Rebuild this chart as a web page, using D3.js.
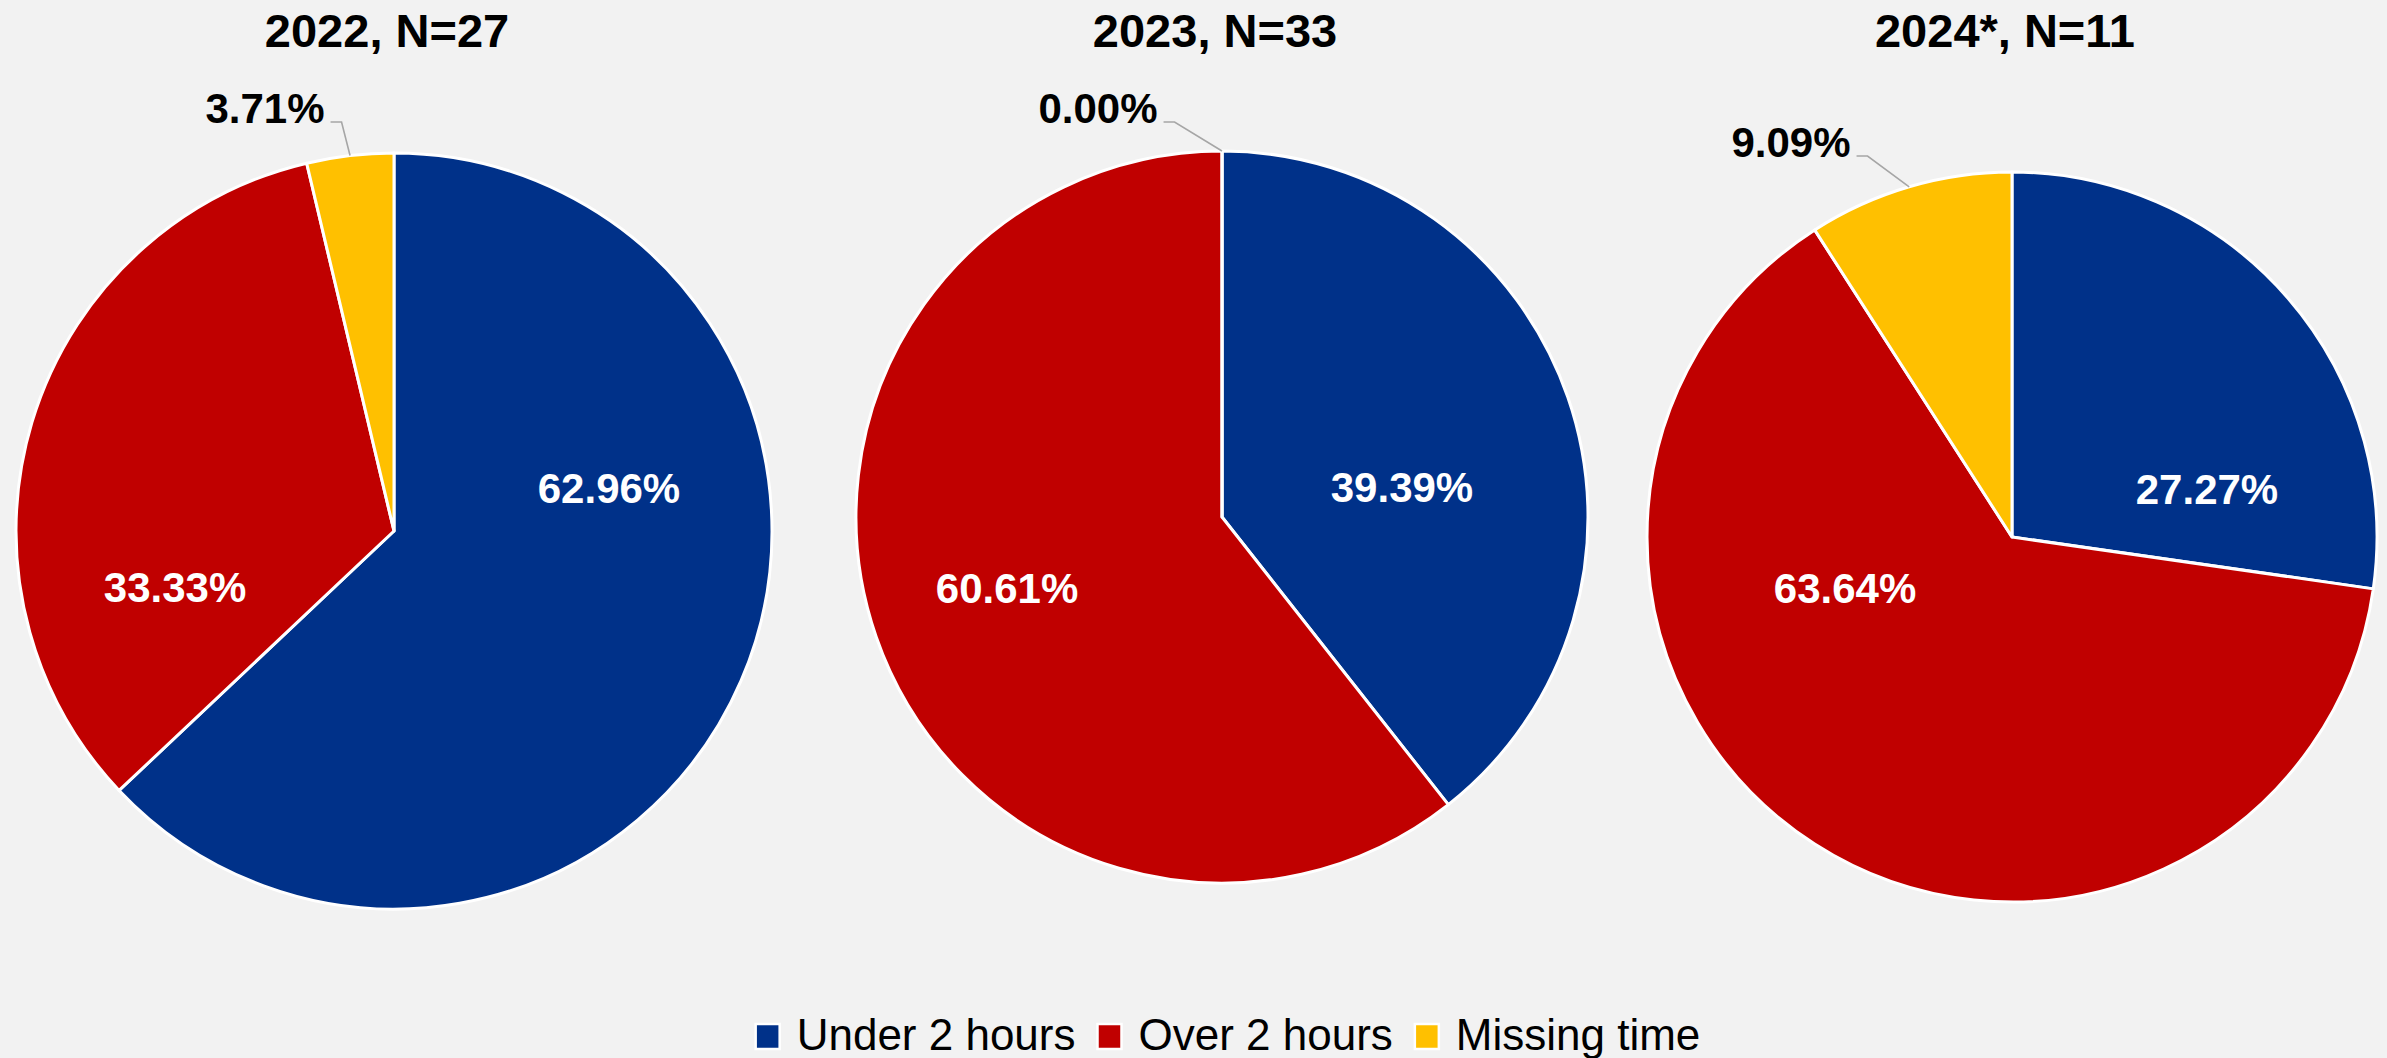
<!DOCTYPE html>
<html>
<head>
<meta charset="utf-8">
<script src="https://cdn.jsdelivr.net/npm/d3@7"></script>
<style>
  html, body { margin: 0; padding: 0; background: #f2f2f2; }
  svg { display: block; font-family: "Liberation Sans", Arial, sans-serif; }
</style>
</head>
<body>
<svg id="chart" width="2387" height="1058"></svg>
<script>
// chart values
var years = ["2022, N=27", "2023, N=33", "2024*, N=11"];
var categories = ["Under 2 hours", "Over 2 hours", "Missing time"];
var under2 = [62.96, 39.39, 27.27];
var over2 = [33.33, 60.61, 63.64];
var missing = [3.71, 0.00, 9.09];
var colors = ["#003189", "#c00000", "#ffc000"];

// layout: one pie per year (centre / radius), label nudges relative to centre
var pies = [
  {cx: 394, cy: 531, r: 378},
  {cx: 1222, cy: 517, r: 366},
  {cx: 2012, cy: 537, r: 365}
];
var innerLabelAt = [
  [[215, -28], [-219, 71]],
  [[180, -15], [-215, 86]],
  [[195, -33], [-167, 66]]
];
var outerLabelAt = [[-129, -408], [-124, -394], [-221, -380]];

var svg = d3.select("#chart");
var color = d3.scaleOrdinal().domain(categories).range(colors);
var pie = d3.pie().sort(null).value(function(d) { return d.value; });
var fmt = function(v) { return d3.format(".2f")(v) + "%"; };

years.forEach(function(year, i) {
  var p = pies[i];
  var rows = [
    {key: categories[0], value: under2[i]},
    {key: categories[1], value: over2[i]},
    {key: categories[2], value: missing[i]}
  ];
  var arcs = pie(rows);
  var arc = d3.arc().innerRadius(0).outerRadius(p.r);
  var edge = d3.arc().innerRadius(p.r).outerRadius(p.r);

  var g = svg.append("g").attr("transform", "translate(" + p.cx + "," + p.cy + ")");

  g.selectAll("path").data(arcs).enter().append("path")
    .attr("d", arc)
    .style("fill", function(d) { return color(d.data.key); })
    .style("stroke", "#fff")
    .style("stroke-width", 3)
    .style("stroke-linejoin", "round");

  // title
  svg.append("text")
    .attr("x", p.cx - 7)
    .attr("y", 47)
    .attr("text-anchor", "middle")
    .style("font-weight", "bold")
    .style("font-size", "47px")
    .style("fill", "#000")
    .text(year);

  // white labels inside the two big slices
  arcs.slice(0, 2).forEach(function(d, j) {
    g.append("text")
      .attr("x", innerLabelAt[i][j][0])
      .attr("y", innerLabelAt[i][j][1])
      .attr("text-anchor", "middle")
      .style("font-weight", "bold")
      .style("font-size", "42px")
      .style("fill", "#fff")
      .text(fmt(d.data.value));
  });

  // outside label + leader for the "missing" slice
  var m = arcs[2];
  var lbl = g.append("text")
    .attr("x", outerLabelAt[i][0])
    .attr("y", outerLabelAt[i][1])
    .attr("text-anchor", "middle")
    .style("font-weight", "bold")
    .style("font-size", "42px")
    .style("fill", "#000")
    .text(fmt(m.data.value));
  var box = lbl.node().getBBox();
  var tip = edge.centroid(m);
  var x0 = box.x + box.width + 6, y0 = outerLabelAt[i][1] - 1;
  g.append("polyline")
    .attr("points", [[x0, y0], [x0 + 11, y0], tip].map(function(q) { return q.join(","); }).join(" "))
    .style("fill", "none")
    .style("stroke", "#a6a6a6")
    .style("stroke-width", 1.6);
});

// legend, centred under the middle pie
var legend = svg.append("g").attr("transform", "translate(0,1050)");
var lx = 0;
var items = legend.selectAll("g").data(categories).enter().append("g");
items.append("rect")
  .attr("y", -26).attr("width", 24).attr("height", 25)
  .style("fill", function(d) { return color(d); })
  .style("stroke", "#fff").style("stroke-width", 2.5);
items.append("text")
  .attr("x", 41)
  .style("font-size", "44px")
  .style("fill", "#000")
  .text(function(d) { return d; });
items.each(function() {
  var w = this.querySelector("text").getComputedTextLength();
  d3.select(this).attr("transform", "translate(" + lx + ",0)");
  lx += 41 + w + 22;
});
var legendW = lx - 22;
legend.attr("transform", "translate(" + (1228 - legendW / 2) + ",1050)");
</script>
</body>
</html>
